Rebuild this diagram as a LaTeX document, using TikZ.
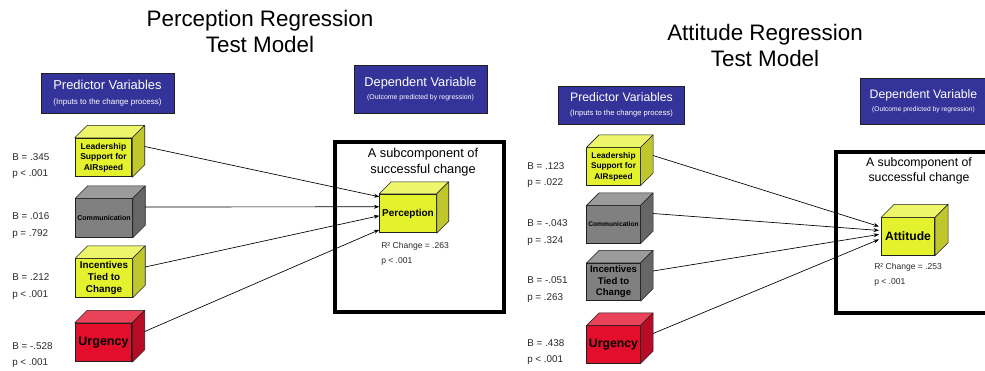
\documentclass[tikz,border=0pt]{standalone}
\usepackage{fontspec}
\setmainfont{Liberation Sans}
\usetikzlibrary{calc,arrows.meta}
\definecolor{navy}{HTML}{333399}
\definecolor{yelF}{HTML}{E4F22E}
\definecolor{yelT}{HTML}{EDF56B}
\definecolor{yelS}{HTML}{BFC72C}
\definecolor{gryF}{HTML}{808080}
\definecolor{gryT}{HTML}{9B9B9B}
\definecolor{gryS}{HTML}{666666}
\definecolor{redF}{HTML}{E20E2C}
\definecolor{redT}{HTML}{EA4259}
\definecolor{redS}{HTML}{B80C26}
\definecolor{edgec}{HTML}{202020}
\definecolor{labc}{HTML}{2A2A2A}

\newcommand\drawcube[7]{%
  \node[cubefront,#6,fill=#3F,font=#4] (#1) at (#2) {#5};
  \filldraw[fill=#3T,draw=edgec,line join=round] (#1.north west) -- ++(#7,-#7) -- ($(#1.north east)+(#7,-#7)$) -- (#1.north east) -- cycle;
  \filldraw[fill=#3S,draw=edgec,line join=round] (#1.north east) -- ($(#1.north east)+(#7,-#7)$) -- ($(#1.south east)+(#7,-#7)$) -- (#1.south east) -- cycle;
  \coordinate (#1-out) at ($(#1.east)+(#7,-11)$);
}

\tikzset{
  cubefront/.style={draw=edgec, line width=0.6pt, align=center, inner sep=0pt, text=black},
  sizeL/.style={minimum width=42.5pt, minimum height=29pt},
  sizeR/.style={minimum width=40pt, minimum height=28pt},
  bluebox/.style={fill=navy, draw=edgec, line width=0.6pt, text=white, align=center, inner sep=0pt},
  frame/.style={draw=black, line width=3pt},
  lbl/.style={anchor=west, text=labc, font=\fontsize{7.4}{9}\selectfont, inner sep=0pt},
  rlbl/.style={anchor=west, text=labc, font=\fontsize{6.4}{8}\selectfont, inner sep=0pt},
  conn/.style={draw=black, line width=0.5pt, -{Stealth[length=4pt,width=3pt]}},
  titletext/.style={align=center, font=\fontsize{16.8}{20}\selectfont},
  subtext/.style={align=center, font=\fontsize{9.6}{12}\selectfont},
}

\begin{document}
\begin{tikzpicture}[x=0.75pt,y=-0.75pt]
\clip (0,0) rectangle (985,371);
\fill[white] (0,0) rectangle (985,371);

% ---------------- Left panel ----------------
\node[titletext] (t1) at (260,31.5) {Perception Regression\\Test Model};

\node[bluebox, minimum width=99.75pt, minimum height=30pt] (pv1) at (107.5,93)
  {{\fontsize{9.7}{11}\selectfont Predictor Variables}\\[-1pt]{\fontsize{6}{7}\selectfont (Inputs to the change process)}};
\node[bluebox, minimum width=99.75pt, minimum height=36pt] (dv1) at (420.5,89)
  {{\fontsize{9.6}{11}\selectfont Dependent Variable}\\[-2pt]{\fontsize{5.2}{6}\selectfont (Outcome predicted by regression)}};

\draw[frame] (335,142) rectangle (504,312);
\node[subtext] (sc1) at (423,162) {A subcomponent of\\successful change};

\drawcube{l1}{103.5,157.5}{yel}{\fontsize{6.4}{8}\selectfont\bfseries}{Leadership\\Support for\\AIRspeed}{sizeL}{12.5}
\drawcube{l2}{104,218}{gry}{\fontsize{5.3}{6}\selectfont\bfseries}{Communication}{sizeL}{12.5}
\drawcube{l3}{104,278}{yel}{\fontsize{7.4}{8.9}\selectfont\bfseries}{Incentives\\Tied to\\Change}{sizeL}{12.5}
\drawcube{l4}{103.5,342.5}{red}{\fontsize{9.4}{11}\selectfont\bfseries}{Urgency}{sizeL}{12.5}
\drawcube{perc}{408,213.5}{yel}{\fontsize{7.5}{9}\selectfont\bfseries}{Perception}{sizeL}{12}

\coordinate (pin1) at ($(perc.north west)+(0,3)$);
\coordinate (pin2) at ($(perc.north west)+(0,13)$);
\coordinate (pin3) at ($(perc.north west)+(0,22)$);
\coordinate (pin4) at ($(perc.north west)+(0,36)$);
\draw[conn] (l1-out) -- (pin1);
\draw[conn] (l2-out) -- (pin2);
\draw[conn] (l3-out) -- (pin3);
\draw[conn] (l4-out) -- (pin4);

\node[lbl] (b1) at (12,157) {B = .345};
\node[lbl] (p1) at (12,174) {p < .001};
\node[lbl] (b2) at (12,216) {B = .016};
\node[lbl] (p2) at (12,234) {p = .792};
\node[lbl] (b3) at (12,277) {B = .212};
\node[lbl] (p3) at (12,295) {p < .001};
\node[lbl] (b4) at (12,346) {B = -.528};
\node[lbl] (p4) at (12,363) {p < .001};

\node[rlbl] (r1) at (381,246) {R² Change = .263};
\node[rlbl] (rp1) at (381,261) {p < .001};

% ---------------- Right panel ----------------
\node[titletext] (t2) at (765,45.5) {Attitude Regression\\Test Model};

\node[bluebox, minimum width=95pt, minimum height=28.5pt] (pv2) at (621.5,105)
  {{\fontsize{9.2}{11}\selectfont Predictor Variables}\\[-1pt]{\fontsize{5.7}{7}\selectfont (Inputs to the change process)}};
\node[bluebox, minimum width=95pt, minimum height=34.5pt] (dv2) at (923.5,101)
  {{\fontsize{9.2}{11}\selectfont Dependent Variable}\\[-2pt]{\fontsize{5}{6}\selectfont (Outcome predicted by regression)}};

\draw[frame] (836,152) rectangle (1005,313);
\node[subtext, font=\fontsize{9.2}{11.3}\selectfont] (sc2) at (919,170.5) {A subcomponent of\\successful change};

\drawcube{r1c}{613.5,166.5}{yel}{\fontsize{6.2}{7.8}\selectfont\bfseries}{Leadership\\Support for\\AIRspeed}{sizeR}{12.5}
\drawcube{r2c}{613.5,224.5}{gry}{\fontsize{5}{6}\selectfont\bfseries}{Communication}{sizeR}{12.5}
\drawcube{r3c}{613.5,282}{gry}{\fontsize{7.2}{8.6}\selectfont\bfseries}{Incentives\\Tied to\\Change}{sizeR}{12.5}
\drawcube{r4c}{613.5,344.5}{red}{\fontsize{9.2}{11}\selectfont\bfseries}{Urgency}{sizeR}{12.5}
\drawcube{att}{908,236.5}{yel}{\fontsize{9.1}{11}\selectfont\bfseries}{Attitude}{sizeR}{13}

\coordinate (ain1) at ($(att.north west)+(-2,9)$);
\coordinate (ain2) at ($(att.north west)+(-2,13)$);
\coordinate (ain3) at ($(att.north west)+(-2,17)$);
\coordinate (ain4) at ($(att.north west)+(-2,22)$);
\draw[conn] (r1c-out) -- (ain1);
\draw[conn] (r2c-out) -- (ain2);
\draw[conn] (r3c-out) -- (ain3);
\draw[conn] (r4c-out) -- (ain4);

\node[lbl] (b5) at (527,166) {B = .123};
\node[lbl] (p5) at (527,183) {p = .022};
\node[lbl] (b6) at (527,223) {B = -.043};
\node[lbl] (p6) at (527,241) {p = .324};
\node[lbl] (b7) at (527,280) {B = -.051};
\node[lbl] (p7) at (527,298) {p = .263};
\node[lbl] (b8) at (527,343) {B = .438};
\node[lbl] (p8) at (527,360) {p < .001};

\node[rlbl] (r2) at (874,267) {R² Change = .253};
\node[rlbl] (rp2) at (874,282) {p < .001};
\end{tikzpicture}
\end{document}
